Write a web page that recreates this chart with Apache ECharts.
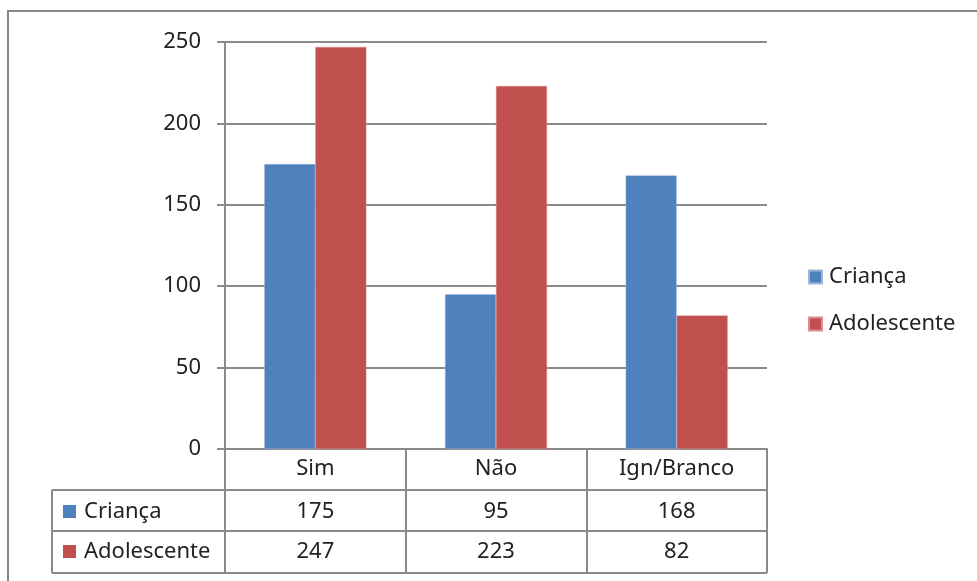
<!DOCTYPE html>
<html><head><meta charset="utf-8">
<script src="https://cdn.jsdelivr.net/npm/echarts@6/dist/echarts.min.js"></script>
<style>html,body{margin:0;padding:0;background:#fff}#c{width:977px;height:581px}</style>
</head><body><div id="c"></div>
<script>
const categories = ['Sim', 'Não', 'Ign/Branco'];
const crianca = [175, 95, 168];
const adolescente = [247, 223, 82];
const seriesNames = ['Criança', 'Adolescente'];
const yTicks = [0, 50, 100, 150, 200, 250];

const BLUE = '#4F81BD', RED = '#C0504D', GRID = '#8a8a8a', TXT = '#222';
const FONT = 'Noto Sans';
const FS = 22;

const chart = echarts.init(document.getElementById('c'));
const G = {left: 225, right: 210, top: 42, bottom: 132};
const rowY = [490, 531, 573];

const graphics = [
  {type: 'rect', shape: {x: 8, y: 11, width: 1000, height: 620}, style: {fill: 'none', stroke: '#888', lineWidth: 2}, z: 0},
  {type: 'line', shape: {x1: 52, y1: rowY[0], x2: 767, y2: rowY[0]}, style: {stroke: GRID, lineWidth: 2}},
  {type: 'line', shape: {x1: 52, y1: rowY[1], x2: 767, y2: rowY[1]}, style: {stroke: GRID, lineWidth: 2}},
  {type: 'line', shape: {x1: 52, y1: rowY[2], x2: 767, y2: rowY[2]}, style: {stroke: GRID, lineWidth: 2}},
  {type: 'line', shape: {x1: 52, y1: rowY[0], x2: 52, y2: rowY[2]}, style: {stroke: GRID, lineWidth: 2}},
  {type: 'rect', shape: {x: 63, y: 505, width: 13, height: 13}, style: {fill: BLUE}},
  {type: 'text', x: 84, y: 512, style: {text: seriesNames[0], font: FS + 'px "' + FONT + '"', fill: TXT, verticalAlign: 'middle'}},
  {type: 'rect', shape: {x: 63, y: 545, width: 13, height: 13}, style: {fill: RED}},
  {type: 'text', x: 84, y: 552, style: {text: seriesNames[1], font: FS + 'px "' + FONT + '"', fill: TXT, verticalAlign: 'middle'}}
];

chart.setOption({
  animation: false,
  textStyle: {fontFamily: FONT},
  grid: G,
  legend: {
    orient: 'vertical', left: 808, top: 266, padding: 0, itemWidth: 13, itemHeight: 13, itemGap: 25,
    icon: 'rect', data: seriesNames,
    textStyle: {fontSize: FS, color: TXT, fontFamily: FONT, padding: [0, 0, 0, 2]}
  },
  xAxis: [
    {
      type: 'category', data: categories, position: 'bottom',
      axisLine: {lineStyle: {color: GRID, width: 2}},
      axisTick: {show: true, length: 124, lineStyle: {color: GRID, width: 2}},
      axisLabel: {fontSize: FS, color: TXT, margin: 9, fontFamily: FONT}
    },
    {
      type: 'category', data: categories, position: 'bottom', offset: 0,
      axisLine: {show: false}, axisTick: {show: false},
      axisLabel: {fontSize: FS, color: TXT, margin: 52, fontFamily: FONT,
        formatter: (v, i) => String(crianca[categories.indexOf(v)])}
    },
    {
      type: 'category', data: categories, position: 'bottom', offset: 0,
      axisLine: {show: false}, axisTick: {show: false},
      axisLabel: {fontSize: FS, color: TXT, margin: 92, fontFamily: FONT,
        formatter: (v, i) => String(adolescente[categories.indexOf(v)])}
    }
  ],
  yAxis: {
    type: 'value', min: 0, max: 250, interval: 50,
    axisLine: {show: true, lineStyle: {color: GRID, width: 2}},
    axisTick: {show: true, length: 8, lineStyle: {color: GRID, width: 2}},
    splitLine: {lineStyle: {color: GRID, width: 2}},
    axisLabel: {fontSize: FS, color: TXT, margin: 24, fontFamily: FONT,
      formatter: v => yTicks.includes(v) ? String(v) : ''}
  },
  series: [
    {name: seriesNames[0], type: 'bar', data: crianca, barWidth: 51, barGap: '0%',
      itemStyle: {color: BLUE, borderColor: '#9db7da', borderWidth: 0.5}},
    {name: seriesNames[1], type: 'bar', data: adolescente, barWidth: 51,
      itemStyle: {color: RED, borderColor: '#d88f8d', borderWidth: 0.5}}
  ],
  graphic: graphics
});
</script></body></html>
